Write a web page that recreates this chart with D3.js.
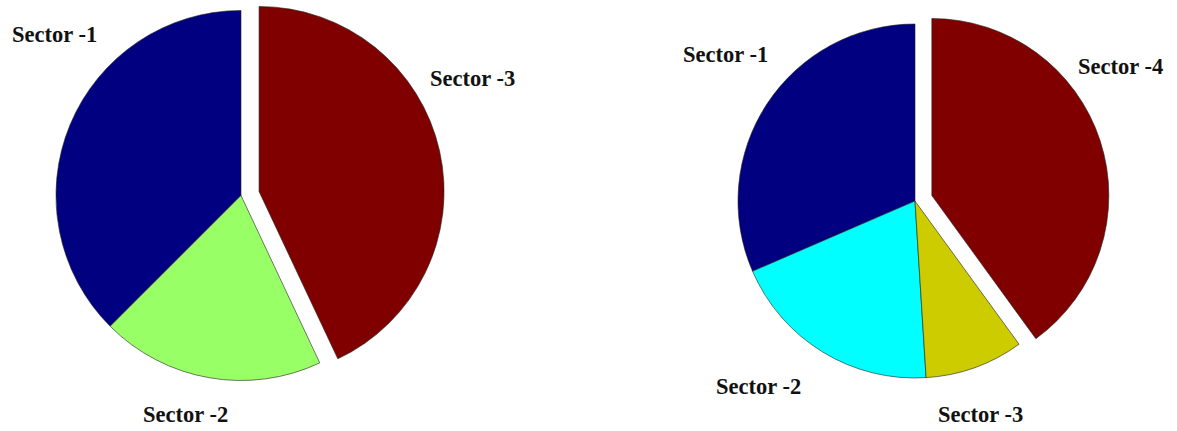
<!DOCTYPE html>
<html>
<head>
<meta charset="utf-8">
<script src="https://cdn.jsdelivr.net/npm/d3@7"></script>
<style>
  html, body { margin: 0; padding: 0; background: #fff; }
  svg { display: block; }
</style>
</head>
<body>
<svg id="chart" width="1177" height="431"></svg>
<script>
// ---- data ----
const leftCategories  = ["Sector -1", "Sector -2", "Sector -3"];
const leftValues      = [37.5, 19.5, 43];
const leftExplode     = [0, 0, 1];
const leftColors      = ["#000080", "#99ff66", "#800000"];

const rightCategories = ["Sector -1", "Sector -2", "Sector -3", "Sector -4"];
const rightValues     = [31.5, 19.5, 9, 40];
const rightExplode    = [0, 0, 0, 1];
const rightColors     = ["#000080", "#00ffff", "#cccc00", "#800000"];

// ---- layout ----
const svg = d3.select("#chart");

function drawPie(cfg) {
  const g = svg.append("g").attr("transform", `translate(${cfg.cx},${cfg.cy})`);
  const pie = d3.pie().sort(null).startAngle(0).endAngle(-2 * Math.PI);
  const arc = d3.arc().innerRadius(0).outerRadius(cfg.r);
  const arcs = pie(cfg.values);
  g.selectAll("path.slice")
    .data(arcs)
    .join("path")
    .attr("class", "slice")
    .attr("d", arc)
    .attr("fill", (d, i) => cfg.colors[i])
    .attr("stroke", "#222")
    .attr("stroke-width", 0.6)
    .attr("transform", (d, i) => {
      if (!cfg.explode[i]) return null;
      const a = (d.startAngle + d.endAngle) / 2;
      const off = cfg.r * 0.1;
      return `translate(${Math.sin(a) * off},${-Math.cos(a) * off})`;
    });
  svg.append("g").selectAll("text")
    .data(cfg.categories)
    .join("text")
    .attr("x", (d, i) => cfg.labelPos[i][0])
    .attr("y", (d, i) => cfg.labelPos[i][1])
    .attr("font-family", "'Liberation Serif', 'Times New Roman', serif")
    .attr("font-weight", "bold")
    .attr("font-size", 22.5)
    .attr("fill", "#111")
    .text(d => d);
}

drawPie({
  cx: 241, cy: 195.5, r: 185,
  values: leftValues, colors: leftColors, explode: leftExplode,
  categories: leftCategories,
  labelPos: [[12, 41.5], [143, 421.5], [430, 85.5]]
});

drawPie({
  cx: 915, cy: 201, r: 177,
  values: rightValues, colors: rightColors, explode: rightExplode,
  categories: rightCategories,
  labelPos: [[683, 62], [716, 394], [938, 421.5], [1078, 74]]
});
</script>
</body>
</html>
